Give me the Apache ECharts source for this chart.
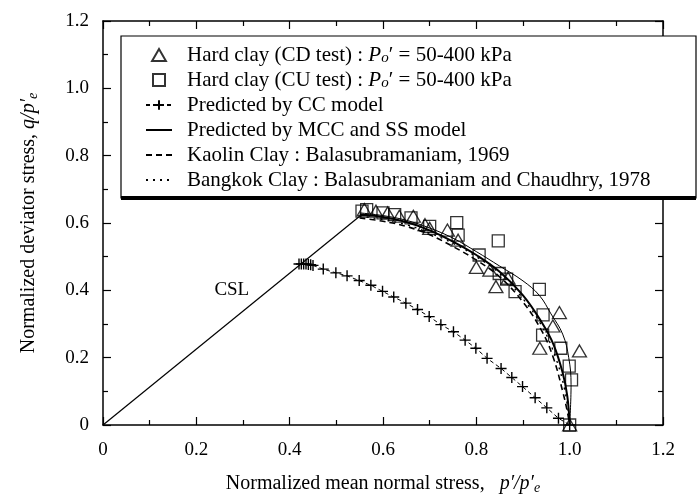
<!DOCTYPE html>
<html>
<head>
<meta charset="utf-8">
<script src="https://cdn.jsdelivr.net/npm/echarts@6/dist/echarts.min.js"></script>
<style>
html,body{margin:0;padding:0;background:#fff;}
#chart{width:700px;height:501px;}
</style>
</head>
<body>
<div id="chart"></div>
<script>
// Axis ticks (normalized stresses)
const tickValues = [0, 0.2, 0.4, 0.6, 0.8, 1.0, 1.2];
const tickLabels = ['0', '0.2', '0.4', '0.6', '0.8', '1.0', '1.2'];

// Hard clay, drained triaxial tests (p'/p'e, q/p'e)
const cdP = [0.56, 0.585, 0.61, 0.635, 0.665, 0.69, 0.70, 0.738, 0.761, 0.80, 0.829, 0.842, 0.868, 0.936, 0.964, 0.978, 1.021, 1.0];
const cdQ = [0.64, 0.635, 0.63, 0.62, 0.62, 0.595, 0.584, 0.579, 0.549, 0.468, 0.46, 0.411, 0.436, 0.228, 0.294, 0.334, 0.220, 0.0];

// Hard clay, undrained triaxial tests
const cuP = [0.555, 0.565, 0.60, 0.625, 0.66, 0.70, 0.758, 0.761, 0.806, 0.847, 0.849, 0.865, 0.883, 0.935, 0.943, 0.942, 0.981, 0.999, 1.004, 1.0];
const cuQ = [0.635, 0.64, 0.63, 0.625, 0.615, 0.59, 0.601, 0.564, 0.505, 0.547, 0.45, 0.433, 0.396, 0.403, 0.327, 0.267, 0.228, 0.175, 0.134, 0.0];

// Cam clay (CC) predicted state boundary
const ccP = [0.420, 0.425, 0.430, 0.435, 0.440, 0.445, 0.450, 0.472, 0.499, 0.523, 0.549, 0.574, 0.599, 0.623, 0.649, 0.674, 0.699, 0.724, 0.751, 0.776, 0.799, 0.823, 0.853, 0.876, 0.899, 0.926, 0.951, 0.976, 1.0];
const ccQ = [0.478, 0.478, 0.478, 0.478, 0.477, 0.476, 0.474, 0.463, 0.452, 0.443, 0.429, 0.415, 0.397, 0.380, 0.362, 0.343, 0.322, 0.298, 0.277, 0.252, 0.228, 0.198, 0.168, 0.141, 0.114, 0.081, 0.051, 0.020, 0.0];

// Modified Cam clay (MCC) predicted boundary
const mccP = [0.55, 0.60, 0.65, 0.70, 0.75, 0.80, 0.85, 0.90, 0.94, 0.965, 0.985, 0.995, 1.0];
const mccQ = [0.625, 0.618, 0.603, 0.578, 0.545, 0.505, 0.455, 0.385, 0.305, 0.240, 0.155, 0.085, 0.0];

// SS model predicted boundary
const ssP = [0.55, 0.60, 0.65, 0.70, 0.75, 0.80, 0.85, 0.90, 0.935, 0.96, 0.985, 0.998, 1.003, 1.0];
const ssQ = [0.630, 0.622, 0.608, 0.585, 0.555, 0.515, 0.472, 0.428, 0.385, 0.330, 0.270, 0.200, 0.120, 0.0];

// Kaolin clay (Balasubramaniam, 1969)
const kaoP = [0.55, 0.60, 0.65, 0.70, 0.75, 0.80, 0.85, 0.90, 0.94, 0.965, 0.985, 0.995, 1.0];
const kaoQ = [0.615, 0.605, 0.590, 0.565, 0.530, 0.490, 0.440, 0.365, 0.280, 0.200, 0.100, 0.040, 0.0];

// Bangkok clay (Balasubramaniam and Chaudhry, 1978)
const bkkP = [0.55, 0.60, 0.65, 0.70, 0.75, 0.80, 0.85, 0.90, 0.94, 0.97, 0.99, 1.0];
const bkkQ = [0.620, 0.610, 0.595, 0.570, 0.540, 0.500, 0.450, 0.375, 0.295, 0.200, 0.100, 0.0];

// Critical state line
const cslP = [0, 0.55];
const cslQ = [0, 0.62];

const zip = (a, b) => a.map((v, i) => [v, b[i]]);

const FONT = '"Liberation Serif", "Times New Roman", serif';
const INK = '#000';
const CLEAR = 'rgba(0,0,0,0)';

const names = {
  cd: 'Hard clay (CD test)',
  cu: 'Hard clay (CU test)',
  cc: 'Predicted by CC model',
  mcc: 'Predicted by MCC and SS model',
  kao: 'Kaolin Clay : Balasubramaniam, 1969',
  bkk: 'Bangkok Clay : Balasubramaniam and Chaudhry, 1978'
};

const tickFmt = v => {
  const i = tickValues.findIndex(t => Math.abs(t - v) < 1e-6);
  return i >= 0 ? tickLabels[i] : '';
};

const axisCommon = {
  type: 'value', min: 0, max: 1.2, interval: 0.2,
  axisLine: { show: true, onZero: false, lineStyle: { color: INK, width: 1.5 } },
  axisTick: { show: true, inside: true, length: 8, lineStyle: { color: INK, width: 1.2 } },
  minorTick: { show: true, splitNumber: 2, length: 5, lineStyle: { color: INK, width: 1.2 } },
  splitLine: { show: false }
};

const chart = echarts.init(document.getElementById('chart'), null, { renderer: 'canvas' });

const plusPath = 'path://M0,6L12,6M6,0L6,12';
const triPath = 'path://M6,0L12,10.4L0,10.4Z';
const sqPath = 'path://M0,0L10,0L10,10L0,10Z';

const rich = (size, gap) => ({
  g: { width: gap },
  t: { fontFamily: FONT, fontSize: size, color: INK },
  i: { fontFamily: FONT, fontSize: size, fontStyle: 'italic', color: INK },
  s: { fontFamily: FONT, fontSize: Math.round(size * 0.7), fontStyle: 'italic', color: INK, verticalAlign: 'bottom', padding: [Math.round(size * 0.45), 0, 0, 0] }
});

// plain curve: no point markers (marker kept transparent so the legend shows only the line)
const curve = (name, p, q, lineStyle) => ({
  name, type: 'line', data: zip(p, q), smooth: 0.4,
  symbol: 'circle', showSymbol: false,
  lineStyle: Object.assign({ color: INK }, lineStyle),
  itemStyle: { color: CLEAR, borderColor: CLEAR }
});

chart.setOption({
  backgroundColor: '#fff',
  animation: false,
  textStyle: { fontFamily: FONT, color: INK },
  grid: { left: 103, right: 37, top: 21, bottom: 76 },
  xAxis: [
    Object.assign({}, axisCommon, {
      position: 'bottom',
      name: '{t|Normalized mean normal stress,   }{i|p\u2032/p\u2032}{s|e}',
      nameLocation: 'middle', nameGap: 47,
      nameTextStyle: { rich: rich(20, 0) },
      axisLabel: { show: true, margin: 16, fontFamily: FONT, fontSize: 19, color: INK, formatter: tickFmt }
    }),
    Object.assign({}, axisCommon, { position: 'top', axisLabel: { show: false } })
  ],
  yAxis: [
    Object.assign({}, axisCommon, {
      position: 'left',
      name: '{t|Normalized deviator stress, }{i|q/p\u2032}{s|e}',
      nameLocation: 'middle', nameGap: 63, nameRotate: 90,
      nameTextStyle: { rich: rich(20, 0) },
      axisLabel: { show: true, margin: 14, fontFamily: FONT, fontSize: 19, color: INK, formatter: tickFmt }
    }),
    Object.assign({}, axisCommon, { position: 'right', axisLabel: { show: false } })
  ],
  legend: {
    orient: 'vertical', left: 140, top: 39,
    itemWidth: 26, itemHeight: 12, itemGap: 3,
    symbolKeepAspect: true,
    data: [names.cd, names.cu, names.cc, names.mcc, names.kao, names.bkk],
    formatter: function (n) {
      if (n === names.cd || n === names.cu) {
        return '{g|}{t|' + n + ' : }{i|P}{s|o}{t|\u2032 = 50-400 kPa}';
      }
      return '{g|}{t|' + n + '}';
    },
    textStyle: { fontFamily: FONT, fontSize: 21, color: INK, lineHeight: 22, rich: rich(21, 10) },
    selectedMode: false
  },
  graphic: [
    { type: 'rect', z: 3, shape: { x: 121, y: 36, width: 575, height: 162 },
      style: { fill: '#fff', stroke: INK, lineWidth: 1.2 } },
    { type: 'line', z: 4, shape: { x1: 121, y1: 198, x2: 696, y2: 198 },
      style: { stroke: INK, lineWidth: 4 } }
  ],
  series: [
    Object.assign(curve('CSL', cslP, cslQ, { width: 1.2 }), {
      smooth: false, silent: true,
      markPoint: {
        symbol: 'circle', symbolSize: 1, itemStyle: { color: CLEAR },
        label: { show: true, position: 'inside', formatter: 'CSL', fontFamily: FONT, fontSize: 19, color: INK },
        data: [{ coord: [0.276, 0.40] }]
      }
    }),
    {
      name: names.cc, type: 'line', data: zip(ccP, ccQ),
      symbol: plusPath, symbolSize: 11, showAllSymbol: true,
      lineStyle: { color: INK, width: 1, type: [4, 3] },
      itemStyle: { color: 'none', borderColor: INK, borderWidth: 1.4 }
    },
    curve(names.mcc, mccP, mccQ, { width: 2 }),
    curve(names.mcc, ssP, ssQ, { width: 1 }),
    curve(names.kao, kaoP, kaoQ, { width: 1.6, type: [6, 4] }),
    curve(names.bkk, bkkP, bkkQ, { width: 1.4, type: [2, 5] }),
    {
      name: names.cd, type: 'scatter', data: zip(cdP, cdQ),
      symbol: triPath, symbolSize: [14, 12],
      itemStyle: { color: 'rgba(255,255,255,0)', borderColor: INK, borderWidth: 1.3 }
    },
    {
      name: names.cu, type: 'scatter', data: zip(cuP, cuQ),
      symbol: sqPath, symbolSize: [12, 12],
      itemStyle: { color: 'rgba(255,255,255,0)', borderColor: INK, borderWidth: 1.3 }
    }
  ]
});
</script>
</body>
</html>
